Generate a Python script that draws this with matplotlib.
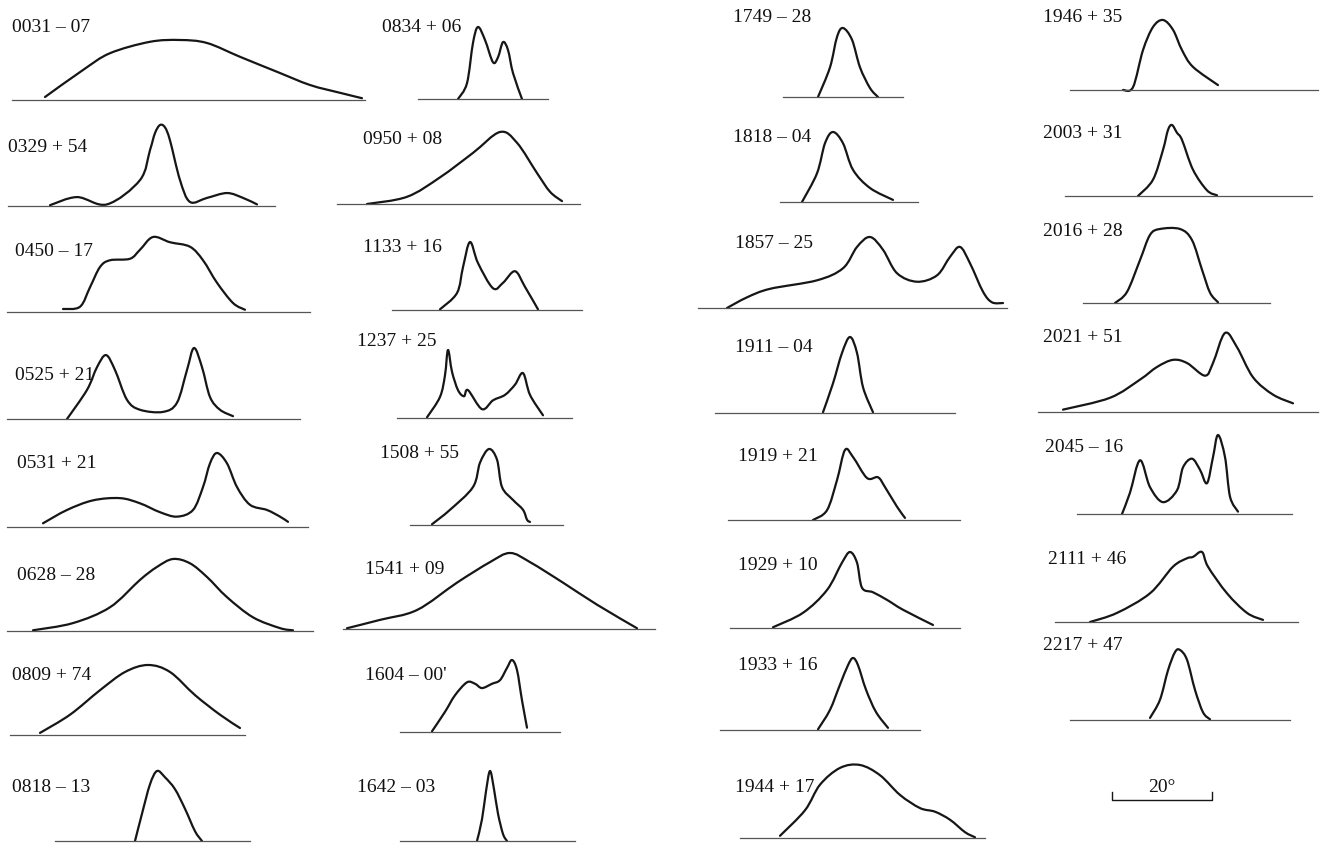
import matplotlib
matplotlib.use("Agg")
from matplotlib import pyplot as plt
from matplotlib.path import Path
from matplotlib.patches import PathPatch
import numpy as np

W, H = 1321, 844
PX_PER_DEG = 5  # 20 deg scale bar is ~100 px long

# pulsar names, longitude window (deg), profile samples
names = [
    "0031 – 07", "0329 + 54", "0450 – 17", "0525 + 21", "0531 + 21", "0628 – 28",
    "0809 + 74", "0818 – 13", "0834 + 06", "0950 + 08", "1133 + 16", "1237 + 25",
    "1508 + 55", "1541 + 09", "1604 – 00'", "1642 – 03", "1749 – 28", "1818 – 04",
    "1857 – 25", "1911 – 04", "1919 + 21", "1929 + 10", "1933 + 16", "1944 + 17",
    "1946 + 35", "2003 + 31", "2016 + 28", "2021 + 51", "2045 – 16", "2111 + 46",
    "2217 + 47",
]

spans = [70.6, 53.4, 60.6, 58.6, 60.2, 61.2, 47, 39, 26, 48.6, 38, 35,
         30.6, 62.4, 32, 35, 24, 27.6, 61.8, 48, 46.4, 46, 40, 49,
         49.6, 49.4, 37.4, 56, 43, 48.6, 44]

# longitude (deg from window start)
lons = [
    [6.6, 14.2, 19.6, 27.6, 33.6, 39, 45.6, 53, 59.6, 65.6, 70],
    [8.4, 13.8, 19.8, 26.4, 28.4, 29.4, 30.4, 31.4, 32.4, 34.4, 36.4, 39.8, 43.8, 47, 49.8],
    [11.2, 14.6, 16.6, 18.6, 20.6, 24.6, 26.6, 29.2, 32.6, 36.6, 39.2, 42, 45.2, 47.6],
    [12, 16, 18, 19.8, 21.6, 24, 26.6, 31.2, 34, 36, 37.4, 39, 40.6, 42.6, 45.2],
    [7.2, 12, 17.2, 22.6, 26.6, 30.6, 34, 37.2, 39.2, 40.6, 42, 44, 46, 48.6, 52, 54.6, 56.2],
    [5.2, 13.2, 20.6, 26.6, 30, 33.2, 36.6, 40, 44, 49.2, 54.6, 57.2],
    [6, 12, 18, 23, 27.6, 32, 37, 42, 46],
    [16, 17.4, 19, 20.4, 22, 24, 26, 28, 29.4],
    [8, 9.8, 11, 12, 13.4, 15, 16, 17, 18, 19, 20.8],
    [6, 14, 20.6, 27.2, 32.6, 36, 40, 42.6, 45],
    [9.6, 13, 14.2, 15.6, 17.2, 20.2, 22.2, 24.6, 26.6, 29.2],
    [6, 8.6, 9.6, 10.2, 11, 12.2, 13.4, 14.2, 17, 19.2, 21.6, 23.6, 25.2, 26.6, 29.2],
    [4.4, 8, 12.6, 14, 15.8, 17.4, 18.4, 20.6, 22.6, 23.4, 24],
    [0.8, 7.4, 14.8, 22.8, 29.4, 33.4, 37.4, 44, 50.8, 58.8],
    [6.4, 9, 11, 13.4, 15, 16.4, 18.4, 20, 21.4, 22.4, 23.4, 24.4, 25.4],
    [15.4, 16.4, 17.2, 18, 18.8, 19.6, 20.6, 21.4],
    [7, 9.4, 10.8, 12, 13.8, 15.4, 17.4, 19],
    [4.4, 7.4, 9, 10.6, 12.6, 14.6, 18, 22.6],
    [5.8, 9.8, 14.4, 23.8, 29, 31.8, 34.4, 37, 39.8, 43.8, 47.8, 50.4, 52.4, 54.4, 57, 58.8, 61],
    [21.6, 23.6, 25.4, 27, 28.4, 29.6, 31.6],
    [17, 19.8, 21.8, 23.4, 25, 27.8, 30, 31.4, 33.8, 35.4],
    [8.6, 14.6, 19.4, 22.4, 24, 25.4, 26.4, 28.6, 31.4, 34.6, 40.6],
    [19.6, 22, 24, 25.6, 26.6, 27.6, 29.2, 31.2, 33.6],
    [8, 13, 16, 20, 24, 28, 32, 36, 39, 42, 45, 47],
    [10.6, 12.6, 14.6, 16.6, 18.6, 20.6, 22.4, 24.6, 29.6],
    [14.6, 17.6, 19.6, 20.6, 21.4, 22.4, 23.4, 25.6, 28.4, 30.4],
    [6.4, 8.8, 11.4, 13.4, 15.4, 19.4, 21.8, 23.8, 25.4, 27],
    [5, 14.4, 20.4, 23.8, 27, 29.8, 33.4, 35, 37.4, 39.8, 43, 47, 51],
    [9, 10.6, 12.6, 14.6, 17.2, 20, 21.2, 23, 24.6, 26, 27.2, 28.2, 29.6, 30.6, 32.2],
    [7, 12.4, 19, 23.6, 26.4, 27.6, 29.4, 30.6, 34.4, 38.4, 41.6],
    [16, 18, 19.6, 21, 22, 23.4, 25, 26.6, 28],
]

# intensity (% of peak)
amps = [
    [5, 50, 78, 97, 100, 95, 72, 47, 25, 12, 3],
    [1, 11, 2, 32, 69, 90, 100, 97, 81, 32, 5, 10, 16, 10, 2],
    [4, 7, 33, 60, 69, 71, 83, 100, 93, 87, 69, 39, 12, 3],
    [0, 41, 73, 90, 69, 27, 13, 10, 23, 69, 100, 73, 31, 13, 4],
    [5, 23, 36, 39, 32, 20, 14, 23, 54, 86, 100, 86, 54, 30, 23, 14, 7],
    [1, 11, 33, 71, 89, 100, 94, 75, 47, 19, 4, 1],
    [3, 29, 64, 90, 100, 90, 57, 29, 10],
    [0, 39, 81, 100, 91, 74, 46, 14, 0],
    [0, 22, 78, 100, 82, 51, 58, 79, 68, 36, 0],
    [0, 10, 37, 71, 100, 85, 43, 17, 4],
    [1, 25, 63, 100, 69, 32, 40, 57, 34, 1],
    [1, 31, 63, 100, 68, 41, 32, 41, 13, 26, 34, 49, 66, 34, 4],
    [1, 20, 50, 82, 100, 86, 50, 33, 20, 7, 4],
    [1, 12, 25, 61, 88, 100, 88, 61, 32, 1],
    [1, 28, 51, 69, 67, 61, 67, 72, 89, 100, 86, 44, 6],
    [0, 31, 71, 100, 74, 39, 10, 0],
    [0, 43, 87, 100, 83, 43, 13, 0],
    [0, 41, 84, 100, 84, 46, 20, 3],
    [0, 15, 27, 39, 56, 86, 100, 82, 49, 37, 46, 72, 86, 63, 23, 8, 7],
    [1, 39, 79, 100, 79, 34, 1],
    [0, 14, 57, 100, 90, 60, 61, 47, 19, 3],
    [1, 20, 50, 86, 100, 86, 53, 47, 37, 24, 4],
    [1, 28, 63, 90, 100, 90, 56, 25, 3],
    [3, 38, 73, 96, 100, 86, 59, 41, 36, 25, 8, 1],
    [0, 4, 57, 90, 100, 86, 57, 33, 7],
    [0, 23, 65, 93, 100, 89, 79, 37, 8, 1],
    [0, 15, 58, 92, 100, 100, 85, 45, 14, 1],
    [3, 18, 41, 57, 66, 62, 46, 62, 100, 82, 44, 22, 11],
    [0, 27, 68, 34, 15, 30, 59, 70, 56, 39, 72, 100, 72, 22, 3],
    [0, 13, 41, 79, 91, 93, 100, 79, 41, 13, 3],
    [3, 29, 71, 97, 100, 86, 43, 11, 1],
]

scale_deg = 20

# layout in pixels: window left, baseline y, peak height, label x, label y
layout = [
    (12, 100, 60, 12, 28), (8, 206, 81, 8, 147), (7, 312, 75, 15, 252),
    (7, 419, 71, 15, 375), (7, 527, 74, 17, 463), (7, 631, 72, 17, 575),
    (10, 735, 70, 12, 675), (55, 841, 70, 12, 787),
    (418, 99, 72, 382, 27), (337, 204, 72, 363, 140), (392, 310, 68, 363, 247),
    (397, 418, 68, 357, 342), (410, 525, 76, 380, 453), (343, 629, 76, 365, 570),
    (400, 732, 72, 365, 675), (400, 841, 70, 357, 787),
    (783, 97, 69, 733, 18), (780, 202, 70, 733, 137), (698, 308, 71, 735, 243),
    (715, 413, 76, 735, 347), (728, 520, 70, 738, 457), (730, 628, 76, 738, 565),
    (720, 730, 72, 738, 665), (740, 838, 73, 735, 787),
    (1070, 90, 70, 1043, 18), (1065, 196, 71, 1043, 133), (1083, 303, 74, 1043, 232),
    (1038, 412, 79, 1043, 338), (1077, 514, 79, 1045, 447), (1055, 622, 70, 1048, 560),
    (1070, 720, 70, 1043, 645),
]

LINE = "#161616"
BASE = "#555555"
FONT = dict(family="Liberation Serif", fontsize=14, color="#111111")


def smooth_path(x, y, ax):
    # Catmull-Rom style bezier through the read points, done in pixel space
    # so the rounding looks the same in every panel
    pts = ax.transData.transform(np.column_stack([x, y]))
    verts = [pts[0]]
    codes = [Path.MOVETO]
    n = len(pts)
    for i in range(n - 1):
        p0 = pts[max(i - 1, 0)]
        p1 = pts[i]
        p2 = pts[i + 1]
        p3 = pts[min(i + 2, n - 1)]
        c1 = p1 + (p2 - p0) / 6.0
        c2 = p2 - (p3 - p1) / 6.0
        verts += [c1, c2, p2]
        codes += [Path.CURVE4] * 3
    return Path(verts, codes)


fig = plt.figure(figsize=(W / 100, H / 100), dpi=100)
fig.patch.set_facecolor("white")

for name, span, lon, amp, (x0, y0, h, tx, ty) in zip(names, spans, lons, amps, layout):
    ax = fig.add_axes([x0 / W, 1 - y0 / H, span * PX_PER_DEG / W, h / H])
    ax.set_xlim(0, span)
    ax.set_ylim(0, 100)
    ax.axis("off")
    ax.plot([0, span], [0, 0], color=BASE, lw=0.9, clip_on=False)
    path = smooth_path(lon, amp, ax)
    ax.add_patch(PathPatch(path, transform=None, facecolor="none", edgecolor=LINE,
                           lw=1.6, joinstyle="round", capstyle="round", clip_on=False))
    fig.text(tx / W, 1 - ty / H, name, ha="left", va="center", **FONT)

# 20 degree scale bar
ax = fig.add_axes([1112 / W, 1 - 800 / H, scale_deg * PX_PER_DEG / W, 8 / H])
ax.plot([0, 0, scale_deg, scale_deg], [1, 0, 0, 1], color=LINE, lw=1.0, clip_on=False)
ax.set_xlim(0, scale_deg)
ax.set_ylim(0, 1)
ax.axis("off")
fig.text(1162 / W, 1 - 787 / H, f"{scale_deg}°", ha="center", va="center", **FONT)

fig.savefig("out.png", dpi=100, facecolor="white")
